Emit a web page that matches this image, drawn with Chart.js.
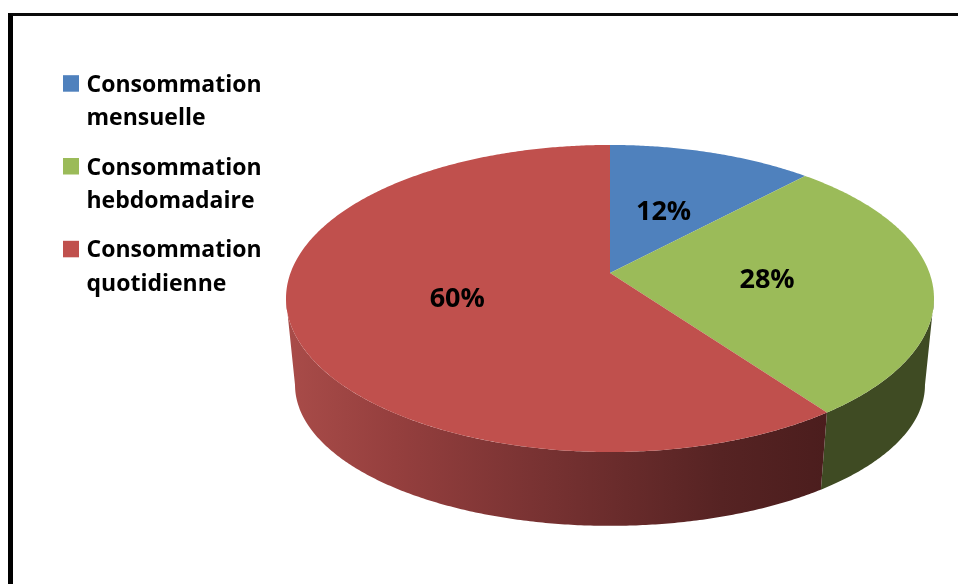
<!DOCTYPE html>
<html>
<head>
<meta charset="utf-8">
<script src="https://cdn.jsdelivr.net/npm/chart.js@4"></script>
<style>
  html, body { margin: 0; padding: 0; background: #fff; }
  #wrap { position: relative; width: 958px; height: 584px; overflow: hidden; }
  #frame { position: absolute; left: 8px; top: 13px; width: 1000px; height: 700px;
           border-left: 5px solid #000; border-top: 3px solid #0a0a0a; box-sizing: border-box; }
  canvas { position: absolute; left: 0; top: 0; }
</style>
</head>
<body>
<div id="wrap">
  <div id="frame"></div>
  <canvas id="chart" width="958" height="584"></canvas>
</div>
<script>
// Fréquence de consommation
const categories = ['Consommation mensuelle', 'Consommation hebdomadaire', 'Consommation quotidienne'];
const shares = [12, 28, 60];

// Slice styles
const topColors  = ['#4f81bd', '#9bbb59', '#c0504d'];
const sideColors = ['#2b4668', '#3f4b23', null]; // red wall uses a gradient

// Perspective of the tilted disc (top face and bottom rim)
const VIEW = { cx: 610, cy: 273, a: 319.5, b: 149.3, k: -0.166,
               a2: 310.6, b2: 137, cy2: 361.6, labelR: 0.49, labelDy: 3 };
const FONT = '"Open Sans", "Noto Sans", sans-serif';

function proj(theta, r, bottom) {
  const u = r * Math.sin(theta), w = -r * Math.cos(theta);
  const d = 1 + VIEW.k * w;
  if (bottom) return [VIEW.cx + VIEW.a2 * u / d, VIEW.cy2 + VIEW.b2 * w / d];
  return [VIEW.cx + VIEW.a * u / d, VIEW.cy + VIEW.b * w / d];
}

const STEP = Math.PI / 360;
// the rim is seen between the two silhouette generators (where w = -k)
const EDGE_R = Math.acos(VIEW.k);                 // right-hand silhouette
const EDGE_L = 2 * Math.PI - Math.acos(VIEW.k);   // left-hand silhouette

function arcPoints(from, to, bottom) {
  const pts = [];
  const n = Math.max(2, Math.ceil(Math.abs(to - from) / STEP));
  for (let j = 0; j <= n; j++) pts.push(proj(from + (to - from) * j / n, 1, bottom));
  return pts;
}

const pie3d = {
  id: 'pie3d',
  beforeDatasetsDraw(chart) {
    const ctx = chart.ctx;
    const meta = chart.getDatasetMeta(0);
    // angles measured clockwise from 12 o'clock
    const slices = meta.data.map((arc, i) => ({
      a: arc.startAngle + Math.PI / 2, b: arc.endAngle + Math.PI / 2, i
    }));

    ctx.save();
    // outer wall of each slice on the visible front half
    slices.forEach(s => {
      const lo = Math.max(s.a, EDGE_R), hi = Math.min(s.b, EDGE_L);
      if (hi <= lo) return;
      const topPts = arcPoints(lo, hi, false);
      const botPts = arcPoints(hi, lo, true);
      ctx.beginPath();
      ctx.moveTo(topPts[0][0], topPts[0][1]);
      topPts.slice(1).forEach(p => ctx.lineTo(p[0], p[1]));
      botPts.forEach(p => ctx.lineTo(p[0], p[1]));
      ctx.closePath();
      if (sideColors[s.i]) {
        ctx.fillStyle = sideColors[s.i];
      } else {
        const g = ctx.createLinearGradient(286, 0, 830, 0);
        g.addColorStop(0, '#a94c49');
        g.addColorStop(0.2, '#953f3e');
        g.addColorStop(0.45, '#7a3333');
        g.addColorStop(0.8, '#562323');
        g.addColorStop(1, '#4b1d1d');
        ctx.fillStyle = g;
      }
      ctx.fill();
    });

    // top face
    slices.forEach(s => {
      const pts = arcPoints(s.a, s.b, false);
      ctx.beginPath();
      ctx.moveTo(VIEW.cx, VIEW.cy);
      pts.forEach(p => ctx.lineTo(p[0], p[1]));
      ctx.closePath();
      ctx.fillStyle = topColors[s.i];
      ctx.fill();
    });

    // percentage labels
    const total = shares.reduce((x, y) => x + y, 0);
    ctx.fillStyle = '#000';
    ctx.font = 'bold 27px ' + FONT;
    ctx.textAlign = 'center';
    ctx.textBaseline = 'middle';
    slices.forEach(s => {
      const p = proj((s.a + s.b) / 2, VIEW.labelR, false);
      ctx.fillText(Math.round(shares[s.i] / total * 100) + '%', p[0], p[1] + VIEW.labelDy);
    });
    ctx.restore();
    return false;
  },
  afterDraw(chart) {
    const ctx = chart.ctx;
    ctx.save();
    ctx.font = 'bold 23px ' + FONT;
    ctx.textAlign = 'left';
    ctx.textBaseline = 'alphabetic';
    categories.forEach((label, i) => {
      const base = 91.7 + i * 82.8;
      ctx.fillStyle = topColors[i];
      ctx.fillRect(63, base - 16.5, 16, 16.5);
      const cut = label.indexOf(' ');
      ctx.fillStyle = '#000';
      ctx.fillText(label.slice(0, cut), 86.5, base);
      ctx.fillText(label.slice(cut + 1), 86.5, base + 33.5);
    });
    ctx.restore();
  }
};

new Chart(document.getElementById('chart'), {
  type: 'pie',
  data: {
    labels: categories,
    datasets: [{ data: shares, backgroundColor: topColors, borderWidth: 0 }]
  },
  options: {
    responsive: false,
    animation: false,
    events: [],
    plugins: { legend: { display: false }, tooltip: { enabled: false } }
  },
  plugins: [pie3d]
});
</script>
</body>
</html>
